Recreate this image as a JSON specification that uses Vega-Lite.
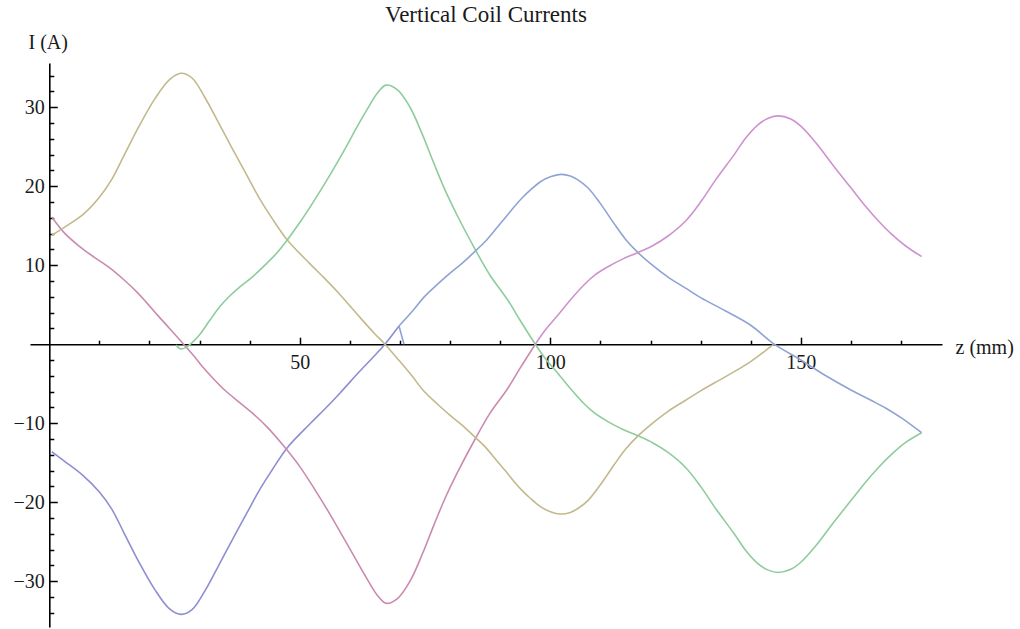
{
  "$schema": "https://vega.github.io/schema/vega-lite/v6.json",
  "width": 912,
  "height": 564,
  "autosize": "none",
  "padding": {"left": 30, "top": 63, "right": 78, "bottom": 2},
  "background": "white",
  "title": {"text": "Vertical Coil Currents", "font": "Liberation Serif", "fontSize": 23, "fontWeight": "normal", "color": "#1a1a1a", "anchor": "middle", "frame": "group", "baseline": "alphabetic", "offset": 9, "dy": 22},
  "config": {"view": {"stroke": null}},
  "datasets": {
    "curves": [
      {"s":"blue1","z":0.5,"I":-13.6},{"s":"blue1","z":3,"I":-14.8},{"s":"blue1","z":6.7,"I":-16.6},{"s":"blue1","z":10,"I":-18.7},{"s":"blue1","z":12.5,"I":-20.9},{"s":"blue1","z":15,"I":-24},{"s":"blue1","z":18,"I":-27.7},{"s":"blue1","z":21,"I":-31},{"s":"blue1","z":24,"I":-33.5},{"s":"blue1","z":26.3,"I":-34.2},{"s":"blue1","z":28.5,"I":-33.6},{"s":"blue1","z":31,"I":-31.3},{"s":"blue1","z":33.4,"I":-28.5},{"s":"blue1","z":36.5,"I":-24.8},{"s":"blue1","z":39.5,"I":-21.3},{"s":"blue1","z":42,"I":-18.4},{"s":"blue1","z":44.5,"I":-15.9},{"s":"blue1","z":47.5,"I":-13.1},{"s":"blue1","z":52,"I":-10.1},{"s":"blue1","z":55,"I":-8.2},{"s":"blue1","z":58,"I":-6.2},{"s":"blue1","z":62,"I":-3.4},{"s":"blue1","z":65,"I":-1.4},{"s":"blue1","z":67,"I":0},{"s":"blue1","z":69.8,"I":2.3},
      {"s":"spike","z":69.8,"I":2.3},{"s":"spike","z":70.8,"I":0},
      {"s":"red","z":0.5,"I":16.1},{"s":"red","z":3,"I":14.1},{"s":"red","z":6,"I":12.4},{"s":"red","z":9,"I":11},{"s":"red","z":12,"I":9.7},{"s":"red","z":15,"I":8.1},{"s":"red","z":17.5,"I":6.6},{"s":"red","z":19.5,"I":5.2},{"s":"red","z":22,"I":3.4},{"s":"red","z":24,"I":2},{"s":"red","z":26.8,"I":0},{"s":"red","z":29,"I":-1.6},{"s":"red","z":30.5,"I":-2.8},{"s":"red","z":32.8,"I":-4.4},{"s":"red","z":35,"I":-5.8},{"s":"red","z":38,"I":-7.4},{"s":"red","z":40.5,"I":-8.7},{"s":"red","z":43.5,"I":-10.5},{"s":"red","z":46.8,"I":-12.9},{"s":"red","z":50,"I":-15.5},{"s":"red","z":53,"I":-18.4},{"s":"red","z":56,"I":-21.5},{"s":"red","z":59,"I":-24.8},{"s":"red","z":61.5,"I":-27.6},{"s":"red","z":63.5,"I":-29.8},{"s":"red","z":65.5,"I":-31.8},{"s":"red","z":67.2,"I":-32.8},{"s":"red","z":69.5,"I":-32.2},{"s":"red","z":72,"I":-30},{"s":"red","z":74.5,"I":-26.5},{"s":"red","z":76.7,"I":-23},{"s":"red","z":79,"I":-19.5},{"s":"red","z":81.5,"I":-16.2},{"s":"red","z":85,"I":-12},{"s":"red","z":88,"I":-8.7},{"s":"red","z":91.5,"I":-5.6},{"s":"red","z":94,"I":-3},{"s":"red","z":97,"I":0},
      {"s":"tan","z":0.5,"I":13.8},{"s":"tan","z":3,"I":14.8},{"s":"tan","z":6.7,"I":16.4},{"s":"tan","z":10,"I":18.6},{"s":"tan","z":12.5,"I":20.9},{"s":"tan","z":15,"I":24},{"s":"tan","z":18,"I":27.7},{"s":"tan","z":21,"I":31},{"s":"tan","z":24,"I":33.5},{"s":"tan","z":26.3,"I":34.3},{"s":"tan","z":28.5,"I":33.7},{"s":"tan","z":31,"I":31.3},{"s":"tan","z":33.4,"I":28.5},{"s":"tan","z":36.5,"I":24.8},{"s":"tan","z":39.5,"I":21.3},{"s":"tan","z":42,"I":18.4},{"s":"tan","z":44.5,"I":15.9},{"s":"tan","z":47.5,"I":13.2},{"s":"tan","z":52,"I":10.2},{"s":"tan","z":55,"I":8.3},{"s":"tan","z":58,"I":6.3},{"s":"tan","z":62,"I":3.4},{"s":"tan","z":65,"I":1.3},{"s":"tan","z":67,"I":0},{"s":"tan","z":70,"I":-2.2},{"s":"tan","z":72.5,"I":-4.1},{"s":"tan","z":74.7,"I":-5.9},{"s":"tan","z":77.5,"I":-7.6},{"s":"tan","z":80,"I":-9},{"s":"tan","z":82.5,"I":-10.3},{"s":"tan","z":84.7,"I":-11.6},{"s":"tan","z":87,"I":-13},{"s":"tan","z":89,"I":-14.5},{"s":"tan","z":91,"I":-16},{"s":"tan","z":92.8,"I":-17.4},{"s":"tan","z":94.5,"I":-18.6},{"s":"tan","z":96,"I":-19.5},{"s":"tan","z":98.1,"I":-20.6},{"s":"tan","z":100,"I":-21.2},{"s":"tan","z":102,"I":-21.5},{"s":"tan","z":104,"I":-21.3},{"s":"tan","z":105.5,"I":-20.8},{"s":"tan","z":107.5,"I":-19.8},{"s":"tan","z":110,"I":-17.8},{"s":"tan","z":112.7,"I":-15.3},{"s":"tan","z":115,"I":-13.3},{"s":"tan","z":117.5,"I":-11.6},{"s":"tan","z":120,"I":-10.2},{"s":"tan","z":123.5,"I":-8.5},{"s":"tan","z":127,"I":-7.1},{"s":"tan","z":130,"I":-5.9},{"s":"tan","z":135,"I":-4.1},{"s":"tan","z":140,"I":-2.2},{"s":"tan","z":144.6,"I":0},
      {"s":"green","z":25.3,"I":-0.1},{"s":"green","z":26.2,"I":-0.6},{"s":"green","z":27.3,"I":-0.4},{"s":"green","z":28.5,"I":0.2},{"s":"green","z":30,"I":1.2},{"s":"green","z":32,"I":3},{"s":"green","z":34.1,"I":4.8},{"s":"green","z":36,"I":6.1},{"s":"green","z":38.1,"I":7.3},{"s":"green","z":40.5,"I":8.5},{"s":"green","z":43.5,"I":10.3},{"s":"green","z":45.5,"I":11.6},{"s":"green","z":47.5,"I":13.2},{"s":"green","z":50,"I":15.4},{"s":"green","z":53,"I":18.3},{"s":"green","z":56,"I":21.4},{"s":"green","z":59,"I":24.7},{"s":"green","z":61.5,"I":27.6},{"s":"green","z":63.5,"I":29.8},{"s":"green","z":65.5,"I":31.8},{"s":"green","z":67.2,"I":32.8},{"s":"green","z":69.5,"I":32.2},{"s":"green","z":72,"I":30},{"s":"green","z":74.5,"I":26.5},{"s":"green","z":76.7,"I":23},{"s":"green","z":79,"I":19.5},{"s":"green","z":81.5,"I":16.2},{"s":"green","z":85,"I":12},{"s":"green","z":88,"I":8.7},{"s":"green","z":91.5,"I":5.6},{"s":"green","z":94,"I":3},{"s":"green","z":97,"I":0},{"s":"green","z":99,"I":-1.8},{"s":"green","z":101.4,"I":-3.6},{"s":"green","z":104,"I":-5.6},{"s":"green","z":106.7,"I":-7.5},{"s":"green","z":109,"I":-8.8},{"s":"green","z":111.5,"I":-9.8},{"s":"green","z":114.5,"I":-10.8},{"s":"green","z":117.5,"I":-11.6},{"s":"green","z":120.5,"I":-12.5},{"s":"green","z":123.5,"I":-13.7},{"s":"green","z":127,"I":-15.6},{"s":"green","z":130,"I":-18},{"s":"green","z":133,"I":-20.8},{"s":"green","z":136.7,"I":-24},{"s":"green","z":139,"I":-26.1},{"s":"green","z":141.5,"I":-27.8},{"s":"green","z":143.5,"I":-28.6},{"s":"green","z":145.5,"I":-28.9},{"s":"green","z":148,"I":-28.5},{"s":"green","z":150,"I":-27.6},{"s":"green","z":153,"I":-25.5},{"s":"green","z":156.5,"I":-22.6},{"s":"green","z":160,"I":-19.8},{"s":"green","z":163,"I":-17.4},{"s":"green","z":165.5,"I":-15.6},{"s":"green","z":168,"I":-14},{"s":"green","z":171,"I":-12.4},{"s":"green","z":174.1,"I":-11.2},
      {"s":"blue2","z":69.8,"I":2.3},{"s":"blue2","z":72.5,"I":4.2},{"s":"blue2","z":74.7,"I":5.9},{"s":"blue2","z":77.5,"I":7.6},{"s":"blue2","z":80,"I":9},{"s":"blue2","z":82.5,"I":10.3},{"s":"blue2","z":84.7,"I":11.6},{"s":"blue2","z":87,"I":13},{"s":"blue2","z":89,"I":14.5},{"s":"blue2","z":91,"I":16},{"s":"blue2","z":92.8,"I":17.4},{"s":"blue2","z":94.5,"I":18.6},{"s":"blue2","z":96,"I":19.5},{"s":"blue2","z":98.1,"I":20.6},{"s":"blue2","z":100,"I":21.2},{"s":"blue2","z":102.1,"I":21.5},{"s":"blue2","z":104,"I":21.3},{"s":"blue2","z":105.5,"I":20.8},{"s":"blue2","z":107.5,"I":19.8},{"s":"blue2","z":110,"I":17.8},{"s":"blue2","z":112.7,"I":15.3},{"s":"blue2","z":115,"I":13.3},{"s":"blue2","z":117.5,"I":11.6},{"s":"blue2","z":120,"I":10.2},{"s":"blue2","z":123.5,"I":8.5},{"s":"blue2","z":127,"I":7.1},{"s":"blue2","z":130,"I":5.9},{"s":"blue2","z":135,"I":4.2},{"s":"blue2","z":140,"I":2.4},{"s":"blue2","z":144.7,"I":0},{"s":"blue2","z":150,"I":-2},{"s":"blue2","z":155,"I":-4},{"s":"blue2","z":160,"I":-5.8},{"s":"blue2","z":164,"I":-7.1},{"s":"blue2","z":167,"I":-8.1},{"s":"blue2","z":170,"I":-9.3},{"s":"blue2","z":174.1,"I":-11.2},
      {"s":"magenta","z":97,"I":0},{"s":"magenta","z":99,"I":1.8},{"s":"magenta","z":101.4,"I":3.6},{"s":"magenta","z":104,"I":5.6},{"s":"magenta","z":106.7,"I":7.5},{"s":"magenta","z":109,"I":8.8},{"s":"magenta","z":111.5,"I":9.8},{"s":"magenta","z":114.5,"I":10.8},{"s":"magenta","z":117.5,"I":11.6},{"s":"magenta","z":120.5,"I":12.5},{"s":"magenta","z":123.5,"I":13.7},{"s":"magenta","z":127,"I":15.6},{"s":"magenta","z":130,"I":18},{"s":"magenta","z":133,"I":20.8},{"s":"magenta","z":136.7,"I":24},{"s":"magenta","z":139,"I":26.1},{"s":"magenta","z":141.5,"I":27.8},{"s":"magenta","z":143.5,"I":28.6},{"s":"magenta","z":145.5,"I":28.9},{"s":"magenta","z":148,"I":28.5},{"s":"magenta","z":150,"I":27.6},{"s":"magenta","z":153,"I":25.5},{"s":"magenta","z":156.5,"I":22.6},{"s":"magenta","z":160,"I":19.8},{"s":"magenta","z":163,"I":17.4},{"s":"magenta","z":165.5,"I":15.6},{"s":"magenta","z":168,"I":14},{"s":"magenta","z":171,"I":12.4},{"s":"magenta","z":174.1,"I":11.1}
    ]
  },
  "data": {"name": "curves"},
  "resolve": {"axis": {"x": "independent", "y": "independent"}},
  "layer": [
    {
      "mark": {"type": "line", "strokeWidth": 1.6, "interpolate": "catmull-rom"},
      "encoding": {
        "x": {"field": "z", "type": "quantitative",
          "scale": {"domain": [-3.85, 178.18], "nice": false, "zero": false},
          "axis": {"orient": "bottom", "offset": -282.8, "values": [50, 100, 150], "ticks": false, "tickSize": 0, "grid": false,
            "domain": true, "domainColor": "#000000", "domainWidth": 1.6,
            "labelFont": "Liberation Serif", "labelFontSize": 20, "labelColor": "#1a1a1a", "labelPadding": 8, "labelFlush": false,
            "title": "z (mm)", "titleFont": "Liberation Serif", "titleFontSize": 20, "titleFontWeight": "normal", "titleColor": "#1a1a1a",
            "titleX": 925, "titleY": 3, "titleAlign": "left", "titleBaseline": "middle", "titleAngle": 0}},
        "y": {"field": "I", "type": "quantitative",
          "scale": {"domain": [-35.8, 35.6], "nice": false, "zero": false},
          "axis": {"orient": "left", "offset": -19.3, "values": [-30, -20, -10, 10, 20, 30], "ticks": false, "tickSize": 0, "grid": false,
            "domain": true, "domainColor": "#000000", "domainWidth": 1.6,
            "labelFont": "Liberation Serif", "labelFontSize": 20, "labelColor": "#1a1a1a", "labelPadding": 5,
            "title": "I (A)", "titleFont": "Liberation Serif", "titleFontSize": 20, "titleFontWeight": "normal", "titleColor": "#1a1a1a",
            "titleX": -21.3, "titleY": -21, "titleAlign": "left", "titleBaseline": "middle", "titleAngle": 0}},
        "color": {"field": "s", "type": "nominal", "legend": null,
          "scale": {"domain": ["blue1", "spike", "red", "tan", "green", "blue2", "magenta"],
                    "range": ["#8e8ed2", "#8fa4d4", "#c98bb0", "#c2b98c", "#8fcc9c", "#8fa4d4", "#cf92cf"]}}
      }
    },
    {
      "mark": {"type": "point", "opacity": 0},
      "encoding": {
        "x": {"field": "z", "type": "quantitative",
          "axis": {"orient": "top", "offset": -281.2, "values": [10, 20, 30, 40, 50, 60, 70, 80, 90, 100, 110, 120, 130, 140, 150, 160, 170],
            "labels": false, "domain": false, "grid": false, "ticks": true, "tickColor": "#000000", "tickWidth": 1.5,
            "tickSize": {"condition": {"test": "datum.value % 50 === 0", "value": 7}, "value": 4}, "title": null}},
        "y": {"field": "I", "type": "quantitative",
          "axis": {"orient": "right", "offset": -892.7, "values": [-34, -32, -30, -28, -26, -24, -22, -20, -18, -16, -14, -12, -10, -8, -6, -4, -2, 2, 4, 6, 8, 10, 12, 14, 16, 18, 20, 22, 24, 26, 28, 30, 32, 34],
            "labels": false, "domain": false, "grid": false, "ticks": true, "tickColor": "#000000", "tickWidth": 1.5,
            "tickSize": {"condition": {"test": "datum.value % 10 === 0", "value": 8}, "value": 4.5}, "title": null}}
      }
    }
  ]
}
